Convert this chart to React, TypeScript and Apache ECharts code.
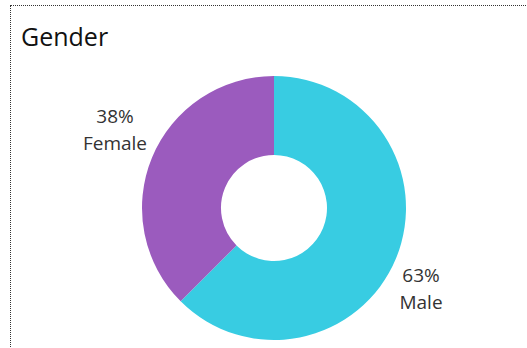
import React, { useEffect, useRef } from "react";
import * as echarts from "echarts";

const categories = ["Male", "Female"];
const values = [62.5, 37.5];
const colors = ["#38CCE2", "#9B5BBE"];
const labelPos = [
  { x: 421, y: 288 },
  { x: 115, y: 129 },
];

export default function App() {
  const ref = useRef<HTMLDivElement>(null);
  useEffect(() => {
    if (!ref.current) return;
    const chart = echarts.init(ref.current, null, { renderer: "svg" });
    chart.setOption({
      animation: false,
      title: {
        text: "Gender",
        left: 16,
        top: 18,
        textStyle: {
          fontFamily: "Open Sans",
          fontSize: 25,
          fontWeight: "normal",
          color: "#111",
        },
      },
      series: [
        {
          type: "pie",
          center: [274, 208],
          radius: [53, 132],
          startAngle: 90,
          clockwise: true,
          data: categories.map((c, i) => ({
            name: c,
            value: values[i],
            itemStyle: { color: colors[i] },
          })),
          label: {
            show: true,
            position: "outside",
            formatter: (p: any) => `${Math.round(p.value)}%\n${p.name}`,
            fontFamily: "Open Sans",
            fontSize: 19,
            lineHeight: 27,
            color: "#333",
            align: "center",
          },
          labelLine: { show: false },
          labelLayout: (p: any) => ({
            x: labelPos[p.dataIndex].x,
            y: labelPos[p.dataIndex].y,
            align: "center",
            verticalAlign: "middle",
          }),
          emphasis: { disabled: true },
        },
      ],
    });
    return () => chart.dispose();
  }, []);
  return (
    <div style={{ position: "fixed", left: 0, top: 0, width: 527, height: 348, background: "#fff" }}>
      <div
        style={{
          position: "absolute",
          left: 10,
          top: 5,
          right: -5,
          bottom: -5,
          borderLeft: "1px dotted #333",
          borderTop: "1px dotted #333",
        }}
      />
      <div ref={ref} style={{ position: "absolute", left: 0, top: 0, width: 527, height: 348 }} />
    </div>
  );
}
